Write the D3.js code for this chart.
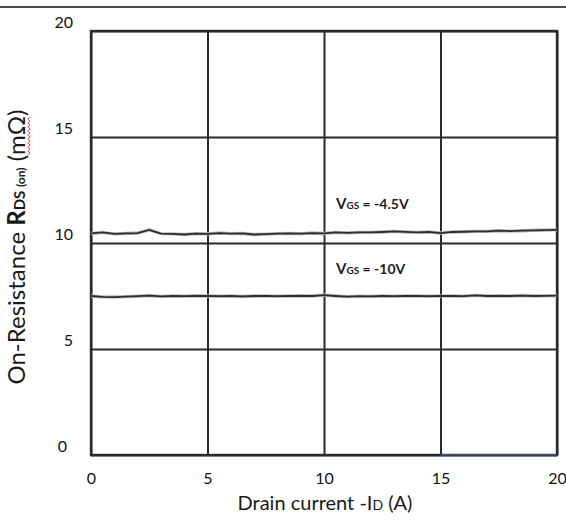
<!DOCTYPE html>
<html lang="en">
    <head>
        <meta charset="utf-8">
        <title>On-Resistance vs Drain Current</title>
        <script src="https://d3js.org/d3.v7.min.js"></script>
        <style type="text/css">
            body{
                margin: 0;
                background: white;
            }
            .ticks text{
                font-family: Lato, "Open Sans", sans-serif;
                font-size: 16px;
                fill: #111;
            }
            .title{
                font-family: Lato, "Open Sans", sans-serif;
                font-size: 20px;
                fill: #1a1a1a;
            }
            .curveLabel{
                font-family: Lato, "Open Sans", sans-serif;
                font-weight: bold;
                font-size: 14px;
                fill: #1c1c28;
            }
        </style>
    </head>
    <body>
        <script type="text/javascript">

            //data
            const current = [0, 0.5, 1, 1.5, 2, 2.5, 3, 3.5, 4, 4.5, 5, 5.5, 6, 6.5, 7, 7.5, 8, 8.5, 9, 9.5,
                             10, 10.5, 11, 11.5, 12, 12.5, 13, 13.5, 14, 14.5, 15, 15.5, 16, 16.5, 17, 17.5, 18, 18.5, 19, 19.5, 20];
            const rdsVgs45 = [10.45, 10.5, 10.43, 10.45, 10.47, 10.62, 10.44, 10.43, 10.4, 10.44, 10.43, 10.47, 10.44, 10.45, 10.4, 10.42, 10.44, 10.45, 10.44, 10.47,
                              10.45, 10.5, 10.48, 10.5, 10.5, 10.52, 10.55, 10.52, 10.5, 10.52, 10.47, 10.52, 10.53, 10.55, 10.55, 10.58, 10.56, 10.58, 10.6, 10.61, 10.62];
            const rdsVgs10 = [7.5, 7.46, 7.45, 7.47, 7.49, 7.52, 7.48, 7.5, 7.49, 7.51, 7.5, 7.49, 7.5, 7.48, 7.5, 7.5, 7.49, 7.5, 7.51, 7.5,
                              7.54, 7.5, 7.47, 7.49, 7.48, 7.5, 7.49, 7.5, 7.5, 7.49, 7.5, 7.5, 7.49, 7.53, 7.5, 7.51, 7.5, 7.52, 7.5, 7.51, 7.52];
            const xTicks = [0, 5, 10, 15, 20];
            const yTicks = [0, 5, 10, 15, 20];

            //declare consts
            const w = 566;
            const h = 521;
            const plotL = 91, plotR = 557, plotT = 31, plotB = 455;

            const x = d3.scaleLinear().domain([0, 20]).range([plotL, plotR]);
            const y = d3.scaleLinear().domain([0, 20]).range([plotB, plotT]);

            //SVG
            const svg = d3.select("body")
                    .append("svg")
                    .attr("width", w)
                    .attr("height", h);

            //rule across the top of the page
            svg.append("line")
               .attr("x1", 0).attr("x2", w)
               .attr("y1", 7).attr("y2", 7)
               .attr("stroke", "#111")
               .attr("stroke-width", 1.6);

            //grid lines
            svg.append("g")
               .attr("transform", "translate(0," + plotB + ")")
               .call(d3.axisBottom(x).tickValues(xTicks).tickSize(-(plotB - plotT)).tickFormat(""))
               .call(g => g.select(".domain").remove())
               .selectAll("line").attr("stroke", "#2a2a2a").attr("stroke-width", 2);

            svg.append("g")
               .attr("transform", "translate(" + plotL + ",0)")
               .call(d3.axisLeft(y).tickValues(yTicks).tickSize(-(plotR - plotL)).tickFormat(""))
               .call(g => g.select(".domain").remove())
               .selectAll("line").attr("stroke", "#2a2a2a").attr("stroke-width", 2);

            //frame
            svg.append("rect")
               .attr("x", plotL).attr("y", plotT)
               .attr("width", plotR - plotL).attr("height", plotB - plotT)
               .attr("fill", "none")
               .attr("stroke", "#2a2a2a")
               .attr("stroke-width", 2.4);

            //blue bit of the bottom border
            svg.append("line")
               .attr("x1", x(15)).attr("x2", x(20))
               .attr("y1", y(0)).attr("y2", y(0))
               .attr("stroke", "#3d5580")
               .attr("stroke-width", 1.5);

            //tick labels
            svg.append("g")
               .attr("class", "ticks")
               .attr("transform", "translate(0," + (plotB + 24) + ")")
               .call(d3.axisBottom(x).tickValues(xTicks).tickSize(0).tickFormat(d3.format("d")))
               .call(g => g.select(".domain").remove())
               .selectAll("text").attr("dy", "0.32em").attr("y", 0);

            svg.append("g")
               .attr("class", "ticks")
               .attr("transform", "translate(73,-9)")
               .call(d3.axisLeft(y).tickValues(yTicks).tickSize(0).tickFormat(d3.format("d")))
               .call(g => g.select(".domain").remove())
               .selectAll("text").attr("x", d => d === 0 ? -6 : 0);

            //curves
            const line = d3.line()
                           .x((d, i) => x(current[i]))
                           .y(d => y(d));

            [rdsVgs45, rdsVgs10].forEach(s => {
                svg.append("path")
                   .attr("d", line(s))
                   .attr("fill", "none")
                   .attr("stroke", "#bbb")
                   .attr("stroke-width", 3.4);
                svg.append("path")
                   .attr("d", line(s))
                   .attr("fill", "none")
                   .attr("stroke", "#2e2e2e")
                   .attr("stroke-width", 1.8);
            });

            //curve labels
            const labels = [{v: "-4.5V", at: 11.6}, {v: "-10V", at: 8.55}];
            labels.forEach(l => {
                const t = svg.append("text")
                   .attr("class", "curveLabel")
                   .attr("x", 336)
                   .attr("y", y(l.at));
                t.append("tspan").style("font-size", "15px").text("V");
                t.append("tspan").style("font-size", "10px").text("GS");
                t.append("tspan").text(" = " + l.v);
            });

            //axis titles
            const xt = svg.append("text")
               .attr("class", "title")
               .attr("x", 325)
               .attr("y", 510)
               .attr("text-anchor", "middle");
            xt.append("tspan").text("Drain current -I");
            xt.append("tspan").style("font-size", "14px").text("D");
            xt.append("tspan").text(" (A)");

            const ytG = svg.append("g")
               .attr("transform", "translate(25,247) rotate(-90)");
            const yt = ytG.append("text")
               .attr("class", "title")
               .style("font-size", "24px")
               .attr("text-anchor", "middle");
            yt.append("tspan").text("On-Resistance ");
            yt.append("tspan").style("font-weight", "bold").text("R");
            yt.append("tspan").style("font-weight", "bold").style("font-size", "15px").text("DS ");
            yt.append("tspan").style("font-weight", "bold").style("font-size", "12px").text("(on)");
            yt.append("tspan").text(" (mΩ)");

            //red spell-check squiggle under mΩ
            const full = yt.text();
            const i0 = full.indexOf("m");
            const i1 = full.indexOf("Ω");
            const sx = yt.node().getStartPositionOfChar(i0).x;
            const ex = yt.node().getEndPositionOfChar(i1).x;
            const pts = d3.range(sx, ex, 2).map((px, k) => [px, 4 + (k % 2 ? 1.2 : -1.2)]);
            ytG.append("path")
               .attr("d", d3.line()(pts))
               .attr("fill", "none")
               .attr("stroke", "#e04040")
               .attr("stroke-width", 0.9);

        </script>
    </body>
</html>
